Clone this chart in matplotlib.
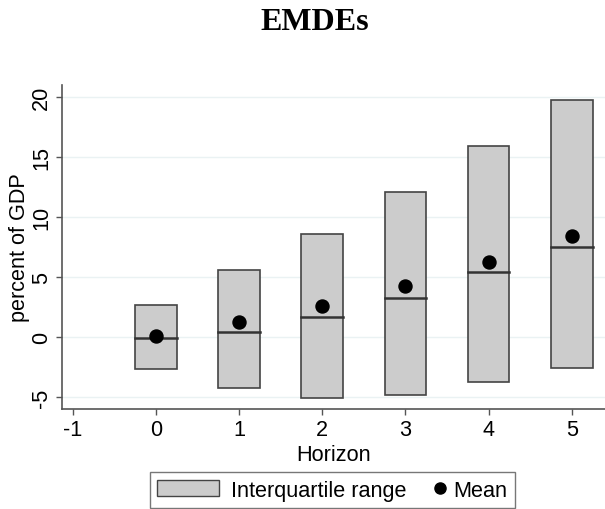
import matplotlib
matplotlib.use("Agg")
import matplotlib.pyplot as plt
from matplotlib.patches import Rectangle, Patch
from matplotlib.lines import Line2D
from matplotlib.legend_handler import HandlerBase

horizon = [0, 1, 2, 3, 4, 5]
q25 = [-2.64, -4.22, -5.05, -4.77, -3.72, -2.58]
q75 = [2.69, 5.60, 8.62, 12.06, 15.89, 19.74]
median = [-0.08, 0.42, 1.69, 3.30, 5.41, 7.49]
mean = [0.13, 1.25, 2.63, 4.29, 6.29, 8.43]
xticks = [-1, 0, 1, 2, 3, 4, 5]
yticks = [-5, 0, 5, 10, 15, 20]

plt.rcParams['font.family'] = ['Liberation Sans', 'DejaVu Sans']
FS = 15.6

fig = plt.figure(figsize=(6.05, 5.1), dpi=100)
ax = fig.add_axes([0.103, 0.196, 0.897, 0.6355])

for y in yticks:
    ax.axhline(y, color='#eaf2f3', lw=1.0, zorder=0)

w = 0.5
for h, lo, hi, med in zip(horizon, q25, q75, median):
    ax.add_patch(Rectangle((h - w/2, lo), w, hi - lo, facecolor='#cccccc',
                           edgecolor='#444444', lw=1.2, zorder=2))
    ax.plot([h - w/2, h + w/2], [med, med], color='#333333', lw=1.8, zorder=3)
ax.scatter(horizon, mean, s=88, color='black', zorder=4)

ax.set_xlim(-1.125, 5.4)
ax.set_ylim(-5.96, 21)
ax.set_xticks(xticks)
ax.set_xticklabels([str(t) for t in xticks], fontsize=FS)
ax.set_yticks(yticks)
ax.set_yticklabels([str(t) for t in yticks], fontsize=FS, rotation=90, va='center')
ax.tick_params(direction='out', length=4, color='#555555', width=1)
for s in ['top', 'right']:
    ax.spines[s].set_visible(False)
for s in ['left', 'bottom']:
    ax.spines[s].set_color('#555555')
    ax.spines[s].set_linewidth(1.2)
ax.set_xlabel('Horizon', fontsize=FS, labelpad=2.5)
ax.set_ylabel('percent of GDP', fontsize=FS, labelpad=1.0)

fig.text(0.52, 0.956, 'EMDEs', fontsize=23, fontweight='bold', family='Liberation Serif',
         ha='center', va='center')


class MarkerRight(HandlerBase):
    def create_artists(self, legend, orig_handle, xdescent, ydescent, width, height,
                       fontsize, trans):
        ln = Line2D([width - xdescent - 0.5], [height / 2 - ydescent], marker='o',
                    ls='none', color='black', markersize=8, transform=trans)
        return [ln]


mean_handle = Line2D([], [], marker='o', color='black', ls='none', markersize=8)
handles = [Patch(facecolor='#cccccc', edgecolor='#444444', lw=1.0), mean_handle]
leg = fig.legend(handles, ['Interquartile range', 'Mean'], loc='upper center',
                 bbox_to_anchor=(0.549, 0.0725), ncol=2, fontsize=FS, frameon=True,
                 fancybox=False, edgecolor='#555555', handlelength=2.85, handleheight=0.75,
                 columnspacing=-1.25, handletextpad=0.55, borderpad=0.35, borderaxespad=0,
                 handler_map={mean_handle: MarkerRight()})
leg.get_frame().set_linewidth(1.0)

fig.savefig('out.png', dpi=100)
